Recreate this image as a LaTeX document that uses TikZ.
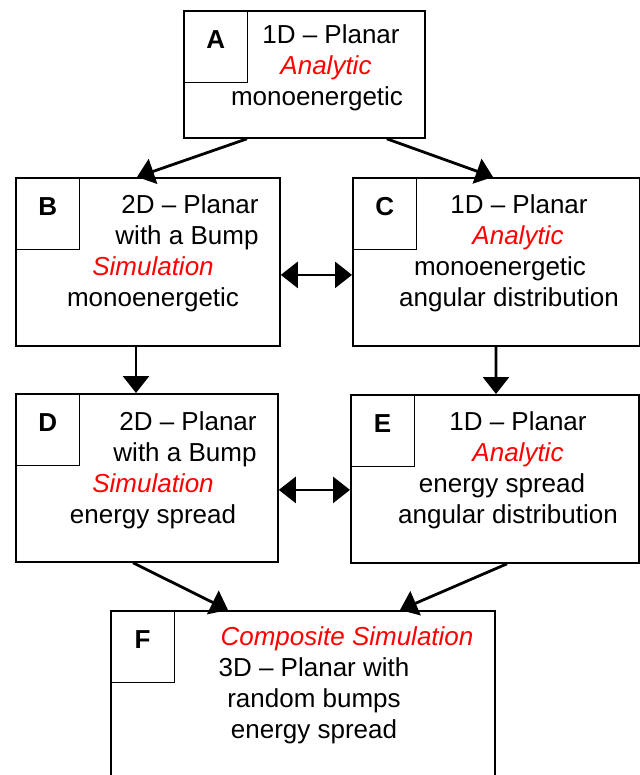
\documentclass[tikz,border=0pt]{standalone}
\usepackage{fontspec}
\setmainfont{Liberation Sans}
\usetikzlibrary{arrows.meta}
\newcommand{\method}[1]{\textcolor{red}{\itshape #1}}

\begin{document}
\begin{tikzpicture}[x=1bp,y=-1bp,>={Triangle[length=17bp,width=26bp]},
  font=\fontsize{26bp}{31bp}\selectfont,
  box/.style={draw,line width=1.8bp,anchor=north west,inner sep=0pt},
  tag/.style={draw,line width=1.3bp,anchor=north west,minimum width=64bp,minimum height=72bp,
    inner sep=0pt,text height=19bp,text depth=16bp,font=\fontsize{26bp}{31bp}\selectfont\bfseries},
  txt/.style={align=center,inner sep=0pt},
  link/.style={->,line width=2.8bp}]
  \useasboundingbox (0,0) rectangle (640,775);
  % boxes with their letter tags
  \foreach \n/\x/\y/\w/\h in {A/183/10/241/127,B/15/177/264/168,C/352/177/287/168,
    D/15/393/262/168,E/350/394/288/168,F/110/610/384/200}
  {
    \node[box,minimum width=\w bp,minimum height=\h bp] (\n) at (\x,\y) {};
    \node[tag] (\n tag) at (\x,\y) {\n};
  }
  \node[txt] (Atext) at (322,68) {\hspace*{18bp}1D – Planar\\\hspace*{8bp}\method{Analytic}\\\hspace*{-10bp}monoenergetic};
  \node[txt] (Btext) at (153,253) {\hspace*{74bp}2D – Planar\\\hspace*{68bp}with a Bump\\\method{Simulation}\\monoenergetic};
  \node[txt] (Ctext) at (509,253) {\hspace*{20bp}1D – Planar\\\hspace*{18bp}\method{Analytic}\\\hspace*{-18bp}monoenergetic\\angular distribution};
  \node[txt] (Dtext) at (153,470) {\hspace*{70bp}2D – Planar\\\hspace*{64bp}with a Bump\\\method{Simulation}\\energy spread};
  \node[txt] (Etext) at (508,470) {\hspace*{20bp}1D – Planar\\\hspace*{20bp}\method{Analytic}\\\hspace*{-12bp}energy spread\\angular distribution};
  \node[txt] (Ftext) at (314,685) {\hspace*{66bp}\method{Composite Simulation}\\3D – Planar with\\random bumps\\energy spread};
  % connectors
  \draw[link] ([xshift=64bp]A.south west) -- ([xshift=122bp]B.north west);
  \draw[link] ([xshift=-39bp]A.south east) -- ([xshift=141bp]C.north west);
  \draw[link] ([xshift=121bp]B.south west) -- ([xshift=121bp]D.north west);
  \draw[link] ([xshift=144bp]C.south west) -- ([xshift=146bp]E.north west);
  \draw[link,<->] ([yshift=-13bp]B.east) -- ([yshift=-13bp]B.east -| C.west);
  \draw[link,<->] ([yshift=-12bp]D.east) -- ([yshift=-12bp]D.east -| E.west);
  \draw[link] ([xshift=118bp]D.south west) -- ([xshift=118bp]F.north west);
  \draw[link] ([xshift=157bp]E.south west) -- ([xshift=290bp]F.north west);
\end{tikzpicture}
\end{document}
